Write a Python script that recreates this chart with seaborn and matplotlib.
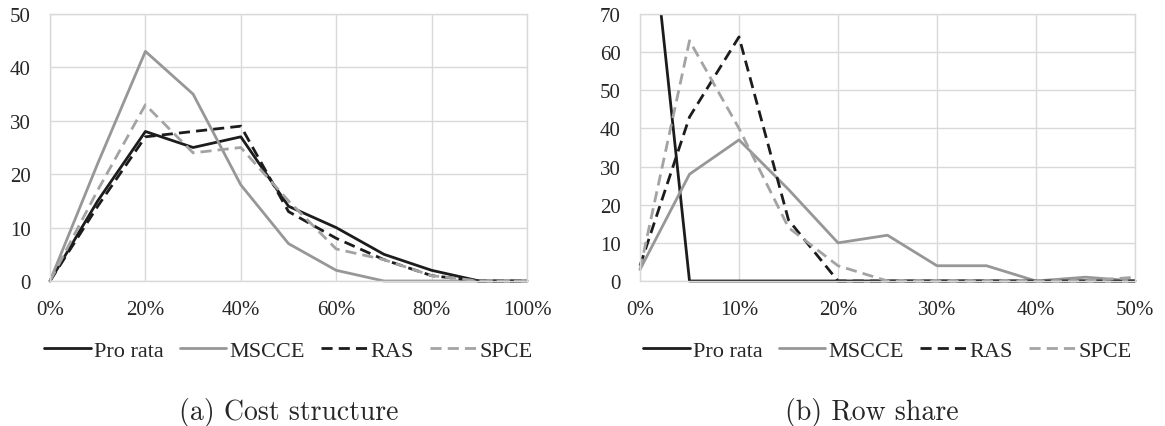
import matplotlib
matplotlib.use("Agg")
import matplotlib.pyplot as plt
from matplotlib.patches import Rectangle
from matplotlib.ticker import PercentFormatter, MultipleLocator
import numpy as np
import pandas as pd
import seaborn as sns

# ---- data -------------------------------------------------------------
methods = ["Pro rata", "MSCCE", "RAS", "SPCE"]

# (a) cost structure: share of error (x) vs. count
cost_x = [0.0, 0.1, 0.2, 0.3, 0.4, 0.5, 0.6, 0.7, 0.8, 0.9, 1.0]
cost_pro_rata = [0, 15, 28, 25, 27, 14, 10, 5, 2, 0, 0]
cost_mscce = [0, 22, 43, 35, 18, 7, 2, 0, 0, 0, 0]
cost_ras = [0, 14, 27, 28, 29, 13, 8, 4, 1, 0, 0]
cost_spce = [0, 17, 33, 24, 25, 15, 6, 4, 1, 0, 0]

# (b) row share
row_x = [0.0, 0.05, 0.10, 0.15, 0.20, 0.25, 0.30, 0.35, 0.40, 0.45, 0.50]
row_pro_rata = [122, 0, 0, 0, 0, 0, 0, 0, 0, 0, 0]
row_mscce = [3, 28, 37, 24, 10, 12, 4, 4, 0, 1, 0]
row_ras = [4, 43, 64, 16, 0, 0, 0, 0, 0, 0, 0]
row_spce = [3, 63, 40, 14, 4, 0, 0, 0, 0, 0, 1]

cost_ylim, cost_ystep = 50, 10
row_ylim, row_ystep = 70, 10


def long_frame(x, series):
    rows = []
    for name, vals in zip(methods, series):
        for xi, v in zip(x, vals):
            rows.append({"x": xi, "value": v, "method": name})
    return pd.DataFrame(rows)


cost_df = long_frame(cost_x, [cost_pro_rata, cost_mscce, cost_ras, cost_spce])
row_df = long_frame(row_x, [row_pro_rata, row_mscce, row_ras, row_spce])

# ---- style ------------------------------------------------------------
sns.set_theme(style="white")
plt.rcParams["font.family"] = ["Liberation Serif", "DejaVu Serif"]

palette = {"Pro rata": "#1c1c1c", "MSCCE": "#979797",
           "RAS": "#1c1c1c", "SPCE": "#a3a3a3"}
dash_style = {"Pro rata": "", "MSCCE": "", "RAS": (4, 2.2), "SPCE": (4, 2.2)}
grid_col = "#d9d9d9"
tick_fs = 15
lw = 2.0

fig = plt.figure(figsize=(11.65, 4.27), dpi=100)
W, H = 1165, 427
ax_a = fig.add_axes([50 / W, (H - 282) / H, 477 / W, 267 / H])
ax_b = fig.add_axes([640 / W, (H - 282) / H, 495 / W, 267 / H])


def draw(ax, df, xmax, xstep, ymax, ystep):
    sns.lineplot(data=df, x="x", y="value", hue="method", style="method",
                 hue_order=methods, style_order=methods, palette=palette,
                 dashes=dash_style, linewidth=lw, sort=False, ax=ax)
    ax.set_xlim(0, xmax)
    ax.set_ylim(0, ymax)
    ax.xaxis.set_major_locator(MultipleLocator(xstep))
    ax.yaxis.set_major_locator(MultipleLocator(ystep))
    ax.xaxis.set_major_formatter(PercentFormatter(xmax=1, decimals=0))
    ax.grid(True, color=grid_col, linewidth=1.0)
    ax.set_axisbelow(True)
    for s in ax.spines.values():
        s.set_color(grid_col)
        s.set_linewidth(1.0)
    ax.tick_params(axis="both", length=0, labelsize=tick_fs, pad=14)
    ax.set_xlabel("")
    ax.set_ylabel("")

    # let lines lying on the zero baseline show at full width,
    # while still cutting them off at the top of the plot area
    clip = Rectangle((-0.01, -0.03), 1.02, 1.03, transform=ax.transAxes,
                     facecolor="none", edgecolor="none")
    ax.add_patch(clip)
    for line in ax.get_lines():
        line.set_clip_path(clip)

    sns.move_legend(ax, "center", bbox_to_anchor=(0.5, -0.262), ncol=4,
                    frameon=False, title=None, fontsize=16,
                    handlelength=2.1, handletextpad=0.15, columnspacing=0.7)
    for line in ax.get_legend().get_lines():
        line.set_linewidth(lw)


draw(ax_a, cost_df, 1.0, 0.2, cost_ylim, cost_ystep)
draw(ax_b, row_df, 0.5, 0.1, row_ylim, row_ystep)

fig.text(289 / W, (H - 413) / H, "(a) Cost structure", family="cmr10",
         fontsize=20, ha="center", va="center")
fig.text(872 / W, (H - 413) / H, "(b) Row share", family="cmr10",
         fontsize=20, ha="center", va="center")

fig.savefig("out.png", dpi=100)
